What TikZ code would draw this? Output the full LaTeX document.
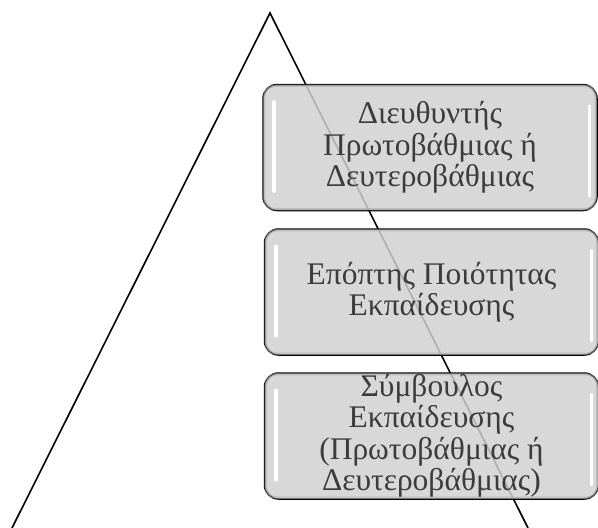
\documentclass[tikz,border=0pt]{standalone}
\usepackage{fontspec}
\setmainfont{Liberation Serif}
\begin{document}
\definecolor{boxgray}{HTML}{D0D0D0}
\definecolor{rimgray}{HTML}{A8A8A8}
\definecolor{textgray}{HTML}{3C3C3C}
\tikzset{
  tierbox/.style={rounded corners=14pt, draw=black, line width=1.5pt,
    fill=boxgray, fill opacity=0.84,
    minimum width=334pt, minimum height=126pt, inner sep=0pt},
  tiertext/.style={text=textgray, align=center, inner sep=0pt,
    font=\fontsize{31.5}{31.5}\selectfont},
  rim/.style={draw=rimgray, line width=2.4pt, rounded corners=11pt, draw opacity=0.55},
  gloss/.style={draw=white, line width=3.6pt, line cap=round},
  side/.style={draw=black, line width=1.6pt}
}
\begin{tikzpicture}[x=1pt,y=-1pt]
  \useasboundingbox (0,0) rectangle (598,528);
  % the two sides of the triangle
  \coordinate (apex) at (270,13);
  \coordinate (bl) at (12,528);
  \coordinate (br) at (528,528);
  \draw[side] (bl) -- (apex) -- (br);
  % the three stacked boxes
  \node[tierbox] (b1) at (430,147.5) {};
  \node[tierbox] (b2) at (431.5,292) {};
  \node[tierbox] (b3) at (431.5,436) {};
  \foreach \b in {b1,b2,b3}{
    \draw[rim] ([shift={(2pt,-2pt)}]\b.north west) rectangle ([shift={(-2pt,2pt)}]\b.south east);
    \draw[gloss] ([shift={(12pt,-18pt)}]\b.north west) -- ([shift={(12pt,20pt)}]\b.south west);
    \draw[gloss, line width=3pt] ([shift={(-8pt,-22pt)}]\b.north east) -- ([shift={(-8pt,15pt)}]\b.south east);
  }
  % labels
  \node[tiertext] (t1) at (b1) {Διευθυντής\\Πρωτοβάθμιας ή\\Δευτεροβάθμιας};
  \node[tiertext] (t2) at (b2) {Επόπτης Ποιότητας\\Εκπαίδευσης};
  \node[tiertext] (t3) at (b3) {Σύμβουλος\\Εκπαίδευσης\\(Πρωτοβάθμιας ή\\Δευτεροβάθμιας)};
\end{tikzpicture}
\end{document}
